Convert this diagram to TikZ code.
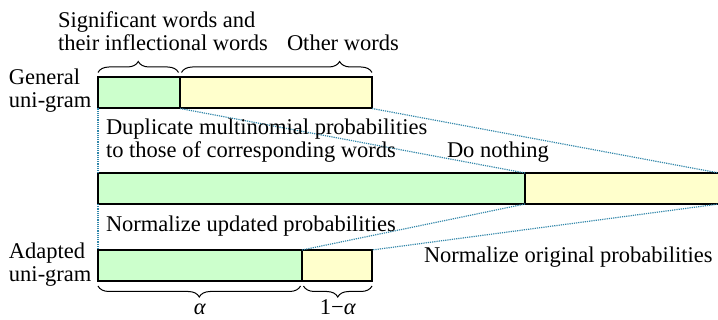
\documentclass[tikz,border=0pt]{standalone}
\usepackage{fontspec}
\setmainfont{Liberation Serif}
\usetikzlibrary{positioning,calc,decorations.pathreplacing}
\definecolor{mintgreen}{RGB}{204,255,204}
\definecolor{creamyellow}{RGB}{255,255,204}
\definecolor{guideblue}{RGB}{50,135,170}
\newcommand{\lbltext}{\fontsize{22.5}{23}\selectfont}

\begin{document}
\begin{tikzpicture}[x=1pt,y=-1pt,
  bar/.style={rectangle,draw=black,line width=2pt,minimum height=31pt,
    inner sep=0pt,outer sep=0pt,anchor=north west},
  sigbar/.style={bar,fill=mintgreen},
  othbar/.style={bar,fill=creamyellow},
  lbl/.style={inner sep=0pt,outer sep=0pt,align=left,anchor=base west,font=\lbltext},
  guide/.style={guideblue,densely dotted,line width=1.2pt},
  brc/.style={decorate,decoration={brace,amplitude=11pt},line width=1pt}
]
\useasboundingbox (0,0) rectangle (718,320);
% bars
\node[sigbar,minimum width=82pt] (gs) at (98,77.5) {};
\node[othbar,minimum width=192pt,right=0pt of gs] (go) {};
\node[sigbar,minimum width=427pt] (ms) at (98,173) {};
\node[othbar,minimum width=194pt,right=0pt of ms] (mo) {};
\node[sigbar,minimum width=204pt] (as) at (98,250) {};
\node[othbar,minimum width=70pt,right=0pt of as] (ao) {};
% guides
\draw[guide] (gs.south west) -- (ms.north west);
\draw[guide] (gs.south east) -- (ms.north east);
\draw[guide] (go.south east) -- (mo.north east);
\draw[guide] (ms.south west) -- (as.north west);
\draw[guide] (ms.south east) -- (as.north east);
\draw[guide] (mo.south east) -- (ao.north east);
% braces
\draw[brc] ($(gs.north west)+(0,-5)$) -- ($(gs.north east)+(-1.5,-5)$);
\draw[brc,decoration={aspect=0.83}] ($(go.north west)+(1.5,-5)$) -- ($(go.north east)+(0,-5)$);
\draw[brc,decoration={mirror}] ($(as.south west)+(0,5)$) -- ($(as.south east)+(-1.5,5)$);
\draw[brc,decoration={mirror}] ($(ao.south west)+(1.5,5)$) -- ($(ao.south east)+(0,5)$);
% labels
\node[lbl] (sigtxt) at (58,51) {Significant words and\\their inflectional words};
\node[lbl] (othtxt) at (287,51) {Other words};
\node[lbl] (gentxt) at (9,108) {General\\uni-gram};
\node[lbl] (adptxt) at (9,282) {Adapted\\uni-gram};
\node[lbl] (duptxt) at (106,158) {Duplicate multinomial probabilities\\to those of corresponding words};
\node[lbl] (nothtxt) at (447,158) {Do nothing};
\node[lbl] (updtxt) at (106,232) {Normalize updated probabilities};
\node[lbl] (origtxt) at (424,263) {Normalize original probabilities};
\node[lbl,anchor=base] (alphatxt) at (200,315) {\textit{α}};
\node[lbl,anchor=base] (compltxt) at (338,315) {1−\textit{α}};
\end{tikzpicture}
\end{document}
